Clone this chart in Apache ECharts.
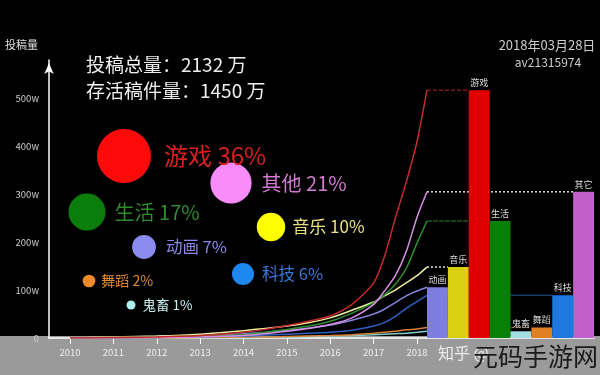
<!DOCTYPE html>
<html><head><meta charset="utf-8">
<script src="https://cdn.jsdelivr.net/npm/echarts@6/dist/echarts.min.js"></script>
<style>html,body{margin:0;padding:0;background:#000}#c{width:600px;height:375px}</style>
</head><body><div id="c"></div>
<script>
// ---------- data (unit: 万) ----------
const timePoints = [2010, 2011, 2012, 2013, 2014, 2014.5, 2015, 2015.5, 2016, 2016.5, 2017, 2017.25, 2017.5, 2017.75, 2018, 2018.23];
const gameLine   = [0, 1, 2, 5, 12, 18, 26, 35, 46, 70, 115, 170, 250, 325, 410, 517];
const otherLine  = [0, 0, 1, 2, 5, 9, 14, 20, 28, 42, 70, 98, 130, 180, 252, 305];
const lifeLine   = [0, 1, 2, 4, 7, 12, 18, 25, 35, 52, 74, 90, 112, 145, 198, 244];
const musicLine  = [0, 2, 4, 8, 15, 20, 25, 32, 42, 58, 75, 88, 100, 115, 130, 148];
const animeLine  = [0, 1, 3, 5, 9, 12, 16, 21, 27, 37, 50, 60, 74, 88, 98, 106];
const techLine   = [0, 0, 1, 2, 4, 6, 8, 10, 12, 16, 25, 32, 45, 62, 76, 89];
const danceLine  = [0, 0, 0, 1, 2, 2, 3, 4, 5, 7, 10, 12, 14, 17, 19, 22];
const kichikuLine= [0, 0, 0, 1, 1, 2, 2, 3, 4, 5, 7, 8, 9, 10, 12, 14];

const barCategories = ['动画', '音乐', '游戏', '生活', '鬼畜', '舞蹈', '科技', '其它'];
const barValues     = [106, 148, 517, 244, 14, 22, 89, 305];

const bubbleNames  = ['游戏', '其他', '生活', '音乐', '动画', '科技', '舞蹈', '鬼畜'];
const bubbleShares = [36, 21, 17, 10, 7, 6, 2, 1];

const yearLabels = [2010, 2011, 2012, 2013, 2014, 2015, 2016, 2017, 2018];
const yTicks = [0, 100, 200, 300, 400, 500];

const titleLines = ['投稿总量：2132 万', '存活稿件量：1450 万'];
const dateText = '2018年03月28日';
const avText = 'av21315974';

// ---------- layout & style ----------
const FONT = '"Noto Sans CJK SC", "Noto Sans", sans-serif';
const lineDefs = [
  {name: '鬼畜', data: kichikuLine, color: '#7fcfcf', bar: '鬼畜', conn: '#2a4a50', dash: [2, 2]},
  {name: '舞蹈', data: danceLine,   color: '#d88038', bar: '舞蹈', conn: '#6a4020', dash: [2, 2]},
  {name: '科技', data: techLine,    color: '#2f5fc0', bar: '科技', conn: '#1c3866', dash: 'solid'},
  {name: '动画', data: animeLine,   color: '#8585d8', bar: '动画', conn: '#555599', dash: [2, 2]},
  {name: '音乐', data: musicLine,   color: '#eeeea0', bar: '音乐', conn: '#dddddd', dash: [2, 2]},
  {name: '生活', data: lifeLine,    color: '#2f8f2f', bar: '生活', conn: '#1e5a1e', dash: [5, 1]},
  {name: '其它', data: otherLine,   color: '#d890e4', bar: '其它', conn: '#dddddd', dash: [2, 2]},
  {name: '游戏', data: gameLine,    color: '#c42a2a', bar: '游戏', conn: '#7a1a1a', dash: [4, 2]}
];
const barColors = ['#7d7de0', '#d8d010', '#e00000', '#088008', '#a0e0e0', '#e08020', '#1f78e0', '#c060c8'];
const bubbleLayout = [[124, 156], [231, 183], [87, 212], [271, 227], [144, 247], [243, 274], [89, 281], [131, 305]];
const bubbleColors = ['#ff0a0a', '#f88cf8', '#0b7d0b', '#ffff00', '#8c8cf0', '#1e88f0', '#f08a2a', '#aef0f0'];
const bubbleLabelColors = ['#d82020', '#d07ad0', '#2e8b2e', '#e8e080', '#8a8ae6', '#3a78d8', '#e08a30', '#c8eef0'];
const bubbleFont = [24, 20, 20, 17, 16.5, 16.5, 14, 13.5];
const bubbleGap = [13, 10, 9, 7, 10, 8, 6, 7];

const chart = echarts.init(document.getElementById('c'), null, {renderer: 'canvas'});

const series = [];
lineDefs.forEach(d => {
  const bi = barCategories.indexOf(d.bar);
  const endV = d.data[d.data.length - 1];
  if (bi > 0) {
    series.push({
      type: 'line', xAxisIndex: 2, yAxisIndex: 1, silent: true, z: 1,
      symbol: 'none', data: [[0, endV], [bi, endV]],
      lineStyle: {color: d.conn, width: 1.5, type: d.dash}
    });
  }
  series.push({
    type: 'line', name: d.name, xAxisIndex: 0, yAxisIndex: 0, z: 3,
    symbol: 'none', smooth: 0.25,
    data: timePoints.map((t, i) => [t, d.data[i]]),
    lineStyle: {color: d.color, width: 1.5}
  });
});
series.push({
  type: 'bar', xAxisIndex: 1, yAxisIndex: 1, z: 4,
  barWidth: '100%', barCategoryGap: 0,
  data: barValues.map((v, i) => ({value: v, itemStyle: {color: barColors[i]}})),
  label: {show: true, position: 'top', distance: 3, color: '#dddddd', fontSize: 9, fontFamily: FONT, formatter: '{b}'}
});
series.push({
  type: 'scatter', xAxisIndex: 3, yAxisIndex: 2, z: 5,
  data: bubbleNames.map((n, i) => ({
    name: n,
    value: [bubbleLayout[i][0], bubbleLayout[i][1], bubbleShares[i]],
    symbolSize: 9 * Math.sqrt(bubbleShares[i]),
    itemStyle: {color: bubbleColors[i], opacity: 1},
    label: {show: true, position: 'right', distance: bubbleGap[i], color: bubbleLabelColors[i],
            fontSize: bubbleFont[i], fontFamily: FONT, formatter: n + ' ' + bubbleShares[i] + '%'}
  }))
});

const option = {
  animation: false,
  backgroundColor: new echarts.graphic.LinearGradient(0, 0, 0, 1, [
    {offset: 0, color: '#000'}, {offset: 0.896, color: '#000'},
    {offset: 0.896, color: '#9a9a9a'}, {offset: 1, color: '#9a9a9a'}
  ]),
  textStyle: {fontFamily: FONT},
  grid: [
    {left: 49, right: 173, top: 60, bottom: 37},
    {left: 427, right: 6, top: 60, bottom: 37},
    {left: 0, right: 0, top: 0, bottom: 0}
  ],
  xAxis: [
    {gridIndex: 0, type: 'value', min: 2009.516, max: 2018.23,
     axisLine: {show: true, lineStyle: {color: '#ffffff', width: 1.5}},
     axisTick: {show: true, customValues: yearLabels, length: 6, lineStyle: {color: '#ffffff'}},
     axisLabel: {customValues: yearLabels, color: '#eeeeee', fontSize: 9.5, margin: 10, fontFamily: FONT, formatter: v => String(v)},
     splitLine: {show: false}},
    {gridIndex: 1, type: 'category', data: barCategories, boundaryGap: true,
     axisLine: {show: true, lineStyle: {color: '#ffffff', width: 1.5}},
     axisTick: {show: false}, axisLabel: {show: false}, splitLine: {show: false}},
    {gridIndex: 1, type: 'value', min: 0, max: barCategories.length, show: false},
    {gridIndex: 2, type: 'value', min: 0, max: 600, show: false}
  ],
  yAxis: [
    {gridIndex: 0, type: 'value', min: 0, max: 580, interval: 100,
     axisLine: {show: true, lineStyle: {color: '#ffffff', width: 1.5}, symbol: ['none', 'arrow'], symbolSize: [7, 11], symbolOffset: [0, -3]},
     axisTick: {show: false}, splitLine: {show: false},
     axisLabel: {customValues: yTicks, color: '#cccccc', fontSize: 9.5, margin: 10, fontFamily: FONT,
                 formatter: v => v === 0 ? '0' : v + 'w'}},
    {gridIndex: 1, type: 'value', min: 0, max: 580, show: false},
    {gridIndex: 2, type: 'value', min: 0, max: 375, inverse: true, show: false}
  ],
  graphic: [
    {type: 'text', left: 5, top: 39, style: {text: '投稿量', fill: '#dddddd', font: '11px ' + FONT}},
    {type: 'text', left: 86, top: 55, style: {text: titleLines[0], fill: '#eeeeee', font: '19px ' + FONT}},
    {type: 'text', left: 86, top: 81, style: {text: titleLines[1], fill: '#eeeeee', font: '19px ' + FONT}},
    {type: 'text', x: 547, y: 45, style: {text: dateText, fill: '#cccccc', font: '13px ' + FONT, align: 'center', verticalAlign: 'middle'}},
    {type: 'text', x: 548, y: 62, style: {text: avText, fill: '#cccccc', font: '12px ' + FONT, align: 'center', verticalAlign: 'middle'}},
    {type: 'text', x: 438, y: 353, z: 100, style: {text: '知乎 @', fill: '#eeeeee', font: '16px ' + FONT, verticalAlign: 'middle'}},
    {type: 'text', x: 473, y: 356, z: 101, style: {text: '元码手游网', fill: '#1a1a1a', font: '25px ' + FONT, verticalAlign: 'middle'}}
  ],
  series: series
};
chart.setOption(option);
</script>
</body></html>
